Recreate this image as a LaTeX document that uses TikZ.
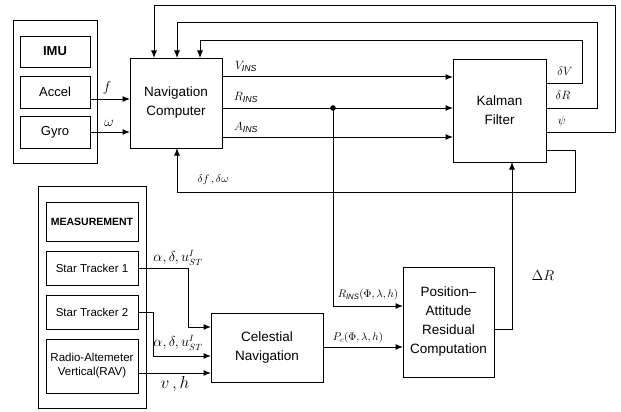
\documentclass[tikz,border=0pt]{standalone}
\usepackage{fontspec}
\setmainfont{Liberation Sans}
\usetikzlibrary{arrows.meta}
\begin{document}
\begin{tikzpicture}[x=1pt,y=-1pt,
  box/.style={draw, line width=0.9pt, inner sep=0pt, outer sep=0pt, align=center, font=\fontsize{13.5}{19}\selectfont},
  sbox/.style={draw, line width=0.9pt, inner sep=0pt, outer sep=0pt, align=center, font=\fontsize{11.5}{14}\selectfont},
  frame/.style={draw, line width=0.9pt, inner sep=0pt, outer sep=0pt},
  wire/.style={line width=1pt},
  arr/.style={wire, -{Latex[length=7.5pt,width=6pt]}},
  lbl/.style={inner sep=0pt, font=\fontsize{12.5}{14}\selectfont}
]
\useasboundingbox (0,0) rectangle (621,412);

% IMU group
\node[frame, minimum width=84pt, minimum height=143pt] (imu) at (55,91.5) {};
\node[sbox, font=\bfseries\fontsize{13}{15}\selectfont, minimum width=70pt, minimum height=31pt] (imulbl) at (55,51.5) {IMU};
\node[sbox, font=\fontsize{13}{15}\selectfont, minimum width=70pt, minimum height=32pt] (accel) at (55,92) {Accel};
\node[sbox, font=\fontsize{13}{15}\selectfont, minimum width=70pt, minimum height=32pt] (gyro) at (55,132) {Gyro};

% main boxes
\node[box, minimum width=92pt, minimum height=90pt] (nav) at (176,103) {Navigation\\Computer};
\node[box, minimum width=93pt, minimum height=103pt] (kal) at (499.5,110.5) {Kalman\\Filter};
\node[box, minimum width=91pt, minimum height=110pt] (pos) at (448.5,322) {Position–\\Attitude\\Residual\\Computation};
\node[box, minimum width=112pt, minimum height=69pt] (cel) at (267,347.5) {Celestial\\Navigation};

% Measurement group
\node[frame, minimum width=108pt, minimum height=222pt] (meas) at (92,297) {};
\node[sbox, font=\bfseries\fontsize{10.5}{12}\selectfont, minimum width=92pt, minimum height=39pt] (measlbl) at (92,221.5) {MEASUREMENT};
\node[sbox, minimum width=92pt, minimum height=34pt] (st1) at (92,268) {Star Tracker 1};
\node[sbox, minimum width=92pt, minimum height=34pt] (st2) at (92,312) {Star Tracker 2};
\node[sbox, minimum width=92pt, minimum height=54pt] (rav) at (92,366) {Radio-Altemeter\\Vertical(RAV)};

% IMU to nav
\coordinate (fA) at ([yshift=-7pt]accel.east);
\draw[arr] (fA) -- (fA -| nav.west);
\draw[arr] (gyro.east) -- (gyro.east -| nav.west);

% nav outputs
\coordinate (vO) at ([yshift=26pt]nav.east);
\coordinate (rO) at ([yshift=-5pt]nav.east);
\coordinate (aO) at ([yshift=-34pt]nav.east);
\draw[arr] (vO) -- (vO -| kal.west);
\draw[arr] (rO) -- (rO -| kal.west);
\draw[arr] (aO) -- (aO -| kal.west);

% tap to residual
\coordinate (dot) at (333,0 |- rO);
\fill (dot) circle (2.8pt);
\coordinate (rI) at ([yshift=16pt]pos.west);
\draw[arr] (dot) -- (dot |- rI) -- (rI);

% feedbacks
\draw[arr] ([yshift=27.5pt]kal.east) -| (582,41) -| ([xshift=24pt]nav.north);
\draw[arr] ([yshift=2.5pt]kal.east) -| (597,23) -| ([xshift=1pt]nav.north);
\draw[arr] ([yshift=-21.5pt]kal.east) -| (615,6) -| ([xshift=-22pt]nav.north);
\draw[arr] ([yshift=-39.5pt]kal.east) -| (575,192) -| ([xshift=1pt]nav.south);

% celestial to residual
\coordinate (pI) at ([yshift=-25pt]pos.west);
\draw[arr] (pI -| cel.east) -- (pI);
\coordinate (dRo) at ([yshift=-7pt]pos.east);
\draw[arr] (dRo) -| ([xshift=12.5pt]kal.south);

% measurement to celestial
\coordinate (c1) at ([yshift=20.5pt]cel.west);
\coordinate (c2) at ([yshift=-8.5pt]cel.west);
\coordinate (c3) at ([yshift=-25.5pt]cel.west);
\draw[arr] (st1.east) -- ++(50,0) |- (c1);
\draw[arr] (st2.east) -- ++(15,0) |- (c2);
\draw[arr] (c3 -| rav.east) -- (c3);

% labels
\node[lbl, font=\fontsize{14}{16}\selectfont] (lf) at (107,88) {$f$};
\node[lbl, font=\fontsize{14}{16}\selectfont] (lw) at (109,123) {$\omega$};
\node[lbl] (lv) at (246,66) {$V_{\mathit{INS}}$};
\node[lbl] (lr) at (246,97) {$R_{\mathit{INS}}$};
\node[lbl] (la) at (246,127) {$A_{\mathit{INS}}$};
\node[lbl] (ldv) at (565,71) {$\delta V$};
\node[lbl] (ldr) at (563,95) {$\delta R$};
\node[lbl] (lpsi) at (562,121) {$\psi$};
\node[lbl, font=\fontsize{11}{13}\selectfont] (ldf) at (213,180) {$\delta f\,,\delta\omega$};
\node[lbl, font=\fontsize{13.5}{16}\selectfont] (la1) at (178,258) {$\alpha,\delta,u^{I}_{ST}$};
\node[lbl, font=\fontsize{13.5}{16}\selectfont] (la2) at (178,343) {$\alpha,\delta,u^{I}_{ST}$};
\node[lbl, font=\fontsize{16}{18}\selectfont] (lvh) at (175,384) {$v\,,h$};
\node[lbl, font=\fontsize{11}{13}\selectfont] (lrins) at (368,295) {$R_{\mathit{INS}}(\Phi,\lambda,h)$};
\node[lbl, font=\fontsize{11}{13}\selectfont] (lpc) at (358,338) {$P_c(\Phi,\lambda,h)$};
\node[lbl, font=\fontsize{14}{16}\selectfont] (ldR) at (543,276) {$\Delta R$};
\end{tikzpicture}
\end{document}
